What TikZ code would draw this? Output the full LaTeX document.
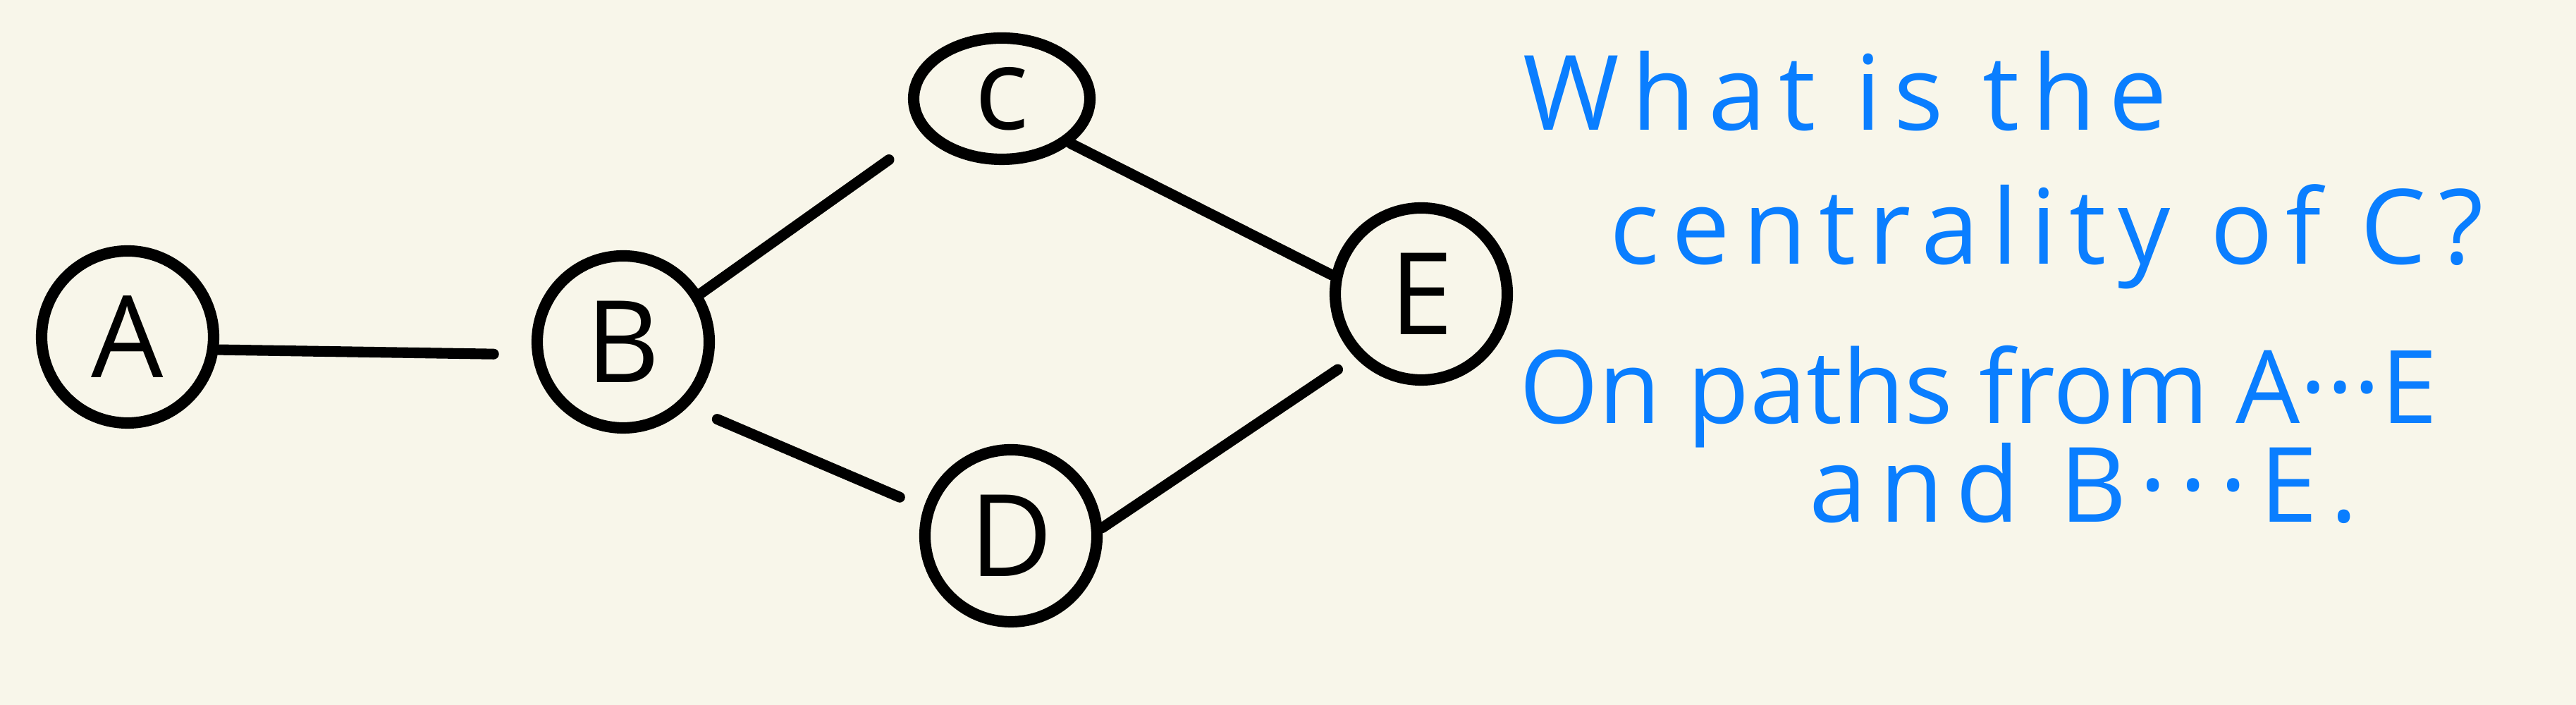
\documentclass[tikz,border=0pt]{standalone}
\usepackage{xcolor}
\usepackage{fontspec}
\usepackage{tikz}
\usetikzlibrary{shapes.geometric,positioning,calc,backgrounds}
\newfontfamily\handfont{Open Sans}
\newfontfamily\handwide[LetterSpace=12]{Open Sans}
\definecolor{PaperCream}{HTML}{F8F6EA}
\definecolor{InkBlack}{HTML}{000000}
\definecolor{InkBlue}{HTML}{0A7EFF}
\tikzset{
  % Vertex circle
  VX/.style={circle,draw=InkBlack,line width=4.6pt,
             minimum size=2.44cm,inner sep=0pt,
             text=InkBlack,font=\handfont\fontsize{46}{50}\selectfont},
  % Flat vertex
  VE/.style={VX,ellipse,minimum width=2.5cm,minimum height=1.72cm},
  % Edge
  ED/.style={draw=InkBlack,line width=4.3pt,line cap=round},
  % Note text
  NT/.style={anchor=base west,inner sep=0pt,text=InkBlue,
             font=\handwide\fontsize{42}{46}\selectfont},
  NN/.style={NT,font=\handfont\fontsize{41}{45}\selectfont}
}
\begin{document}
\begin{tikzpicture}
  \useasboundingbox (0,0) rectangle (36.54,10);
  \fill[PaperCream] (0,0) rectangle (36.54,10);

  %------ VERTICES ------
  \node[VX] (A) at (1.81,5.22)  {A};
  \node[VX] (B) at (8.84,5.15)  {B};
  \node[VE] (C) at (14.21,8.60) {c};
  \node[VX] (D) at (14.34,2.40) {D};
  \node[VX] (E) at (20.16,5.83) {E};

  %------ EDGES ------
  \draw[ED,shorten >=0.55cm] (A.-8)  -- (B.188);
  \draw[ED,shorten >=0.6cm]  (B.32)  -- (C.205);
  \draw[ED]                  (C.-33) -- (E.168);
  \draw[ED,shorten <=0.45cm,shorten >=0.37cm] (B.-45) -- (D.162);
  \draw[ED,shorten >=0.3cm]  (D.5)   -- (E.224);

  %------ QUESTION ------
  \node[NT] (q1) at (21.60,8.15) {What is the};
  \node[NT] (q2) at (22.83,6.25) {centrality of C?};
  \node[NN] (q3) at (21.55,3.99) {On paths from A···E};
  \node[NT] (q4) at (25.66,2.59) {and B···E.};
\end{tikzpicture}
\end{document}
